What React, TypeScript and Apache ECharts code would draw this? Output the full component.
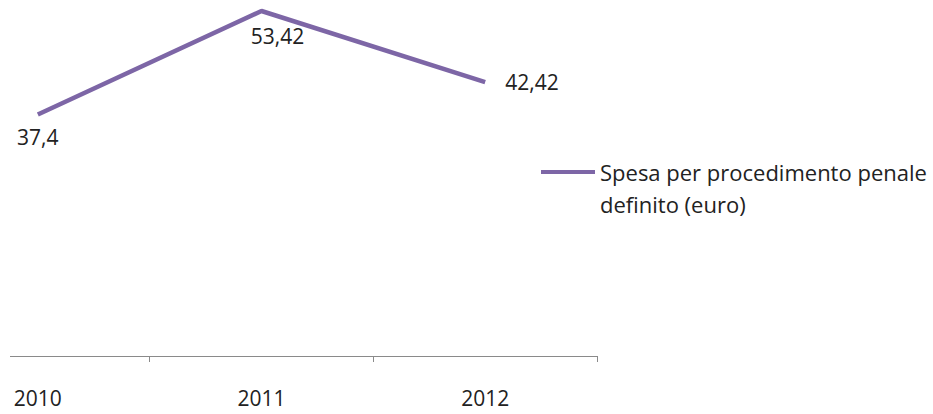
import React, { useEffect, useRef } from "react";
import * as echarts from "echarts";

const categories = ["2010", "2011", "2012"];
const values = [37.4, 53.42, 42.42];
const seriesName = "Spesa per procedimento penale\ndefinito (euro)";

const FONT = "'Open Sans', 'Noto Sans', sans-serif";

export default function App() {
  const ref = useRef<HTMLDivElement>(null);
  useEffect(() => {
    if (!ref.current) return;
    const chart = echarts.init(ref.current, undefined, { renderer: "svg" });
    const fmt = (v: number) => String(v).replace(".", ",");
    chart.setOption({
      animation: false,
      backgroundColor: "#ffffff",
      grid: {
        left: -84,
        top: -31.5,
        width: 671,
        height: 387.5,
        containLabel: false,
        outerBoundsMode: "none",
      },
      xAxis: {
        type: "category",
        data: categories,
        boundaryGap: true,
        axisLine: { show: true, lineStyle: { color: "#8a8a8a", width: 1 } },
        axisTick: { show: true, length: 6, lineStyle: { color: "#8a8a8a" } },
        axisLabel: { color: "#222", fontFamily: FONT, fontSize: 21, margin: 31 },
      },
      yAxis: {
        type: "value",
        min: 0,
        max: 60,
        show: false,
        splitLine: { show: false },
      },
      legend: {
        left: 526,
        top: 119,
        orient: "vertical",
        icon: "rect",
        itemWidth: 54,
        itemHeight: 4,
        itemGap: 0,
        formatter: (n: string) => " \n" + n,
        textStyle: {
          color: "#222",
          fontFamily: FONT,
          fontSize: 22,
          lineHeight: 32,
        },
        data: [seriesName],
      },
      series: [
        {
          name: seriesName,
          type: "line",
          data: values.map((v, i) => ({
            value: v,
            label:
              i === 0
                ? { position: "bottom", distance: 12 }
                : i === 1
                ? { position: "bottom", distance: 14, offset: [16, 0] }
                : { position: "right", distance: 20 },
          })),
          showSymbol: true,
          symbol: "circle",
          symbolSize: 0.1,
          lineStyle: { color: "#7d66a6", width: 4.5 },
          itemStyle: { color: "#7d66a6" },
          label: {
            show: true,
            color: "#222",
            fontFamily: FONT,
            fontSize: 21,
            formatter: (p: any) => fmt(p.value),
          },
        },
      ],
    });
    return () => chart.dispose();
  }, []);
  return (
    <div
      ref={ref}
      style={{ position: "absolute", left: 10, top: 0, width: 923, height: 414, background: "#fff" }}
    />
  );
}
